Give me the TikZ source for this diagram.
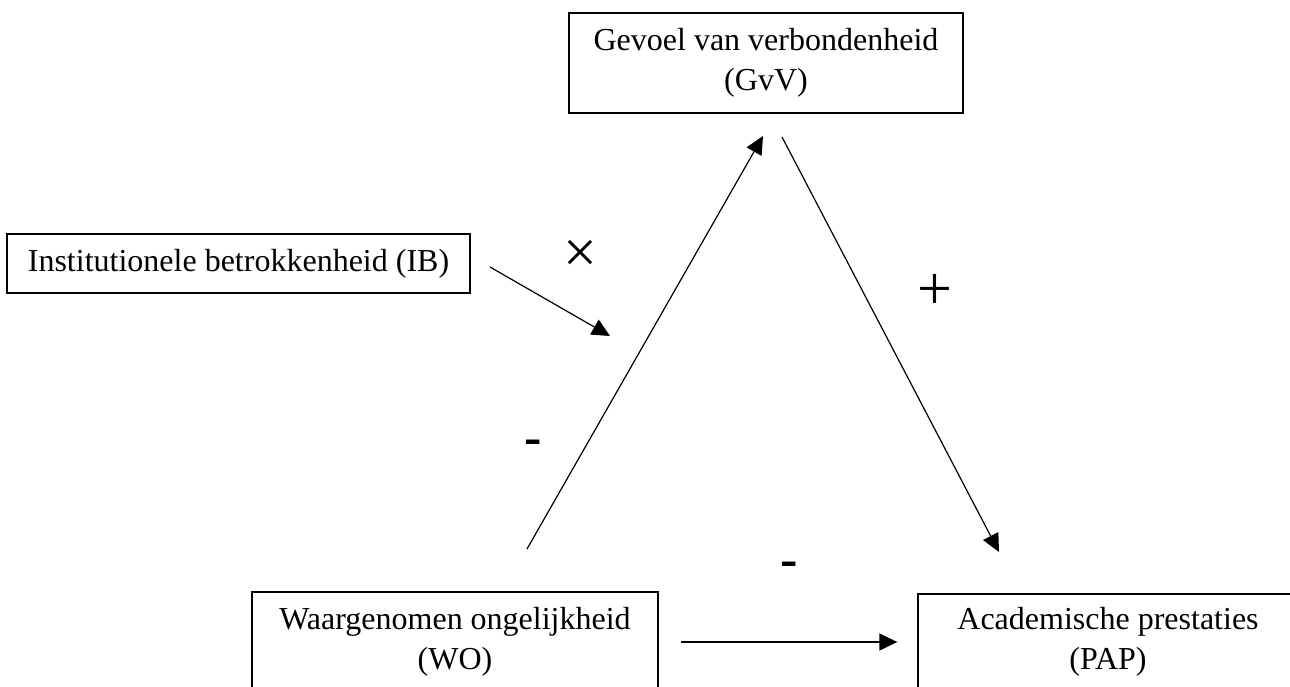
\documentclass[tikz,border=0pt]{standalone}
\usepackage{fontspec}
\setmainfont{Liberation Serif}
\usetikzlibrary{arrows.meta}

\begin{document}
\begin{tikzpicture}[x=0.5pt, y=-0.5pt,
    box/.style={draw, line width=0.65pt, align=center, inner sep=0pt, font=\fontsize{16}{20}\selectfont},
    arr/.style={-{Triangle[length=9pt, width=8.5pt]}, line width=0.6pt},
    sign/.style={inner sep=0pt}]
  \useasboundingbox (0,0) rectangle (1290,686);
  \clip (0,0) rectangle (1290,686);
  % boxes
  \node[box, minimum width=197pt, minimum height=50pt] (gvv) at (766,63) {Gevoel van verbondenheid\\(GvV)};
  \node[box, minimum width=231.5pt, minimum height=29.5pt] (ib) at (238.5,263.5) {Institutionele betrokkenheid (IB)};
  \node[box, minimum width=203pt, minimum height=50pt] (wo) at (455,642) {Waargenomen ongelijkheid\\(WO)};
  \node[box, minimum width=190pt, minimum height=48pt] (pap) at (1108,642) {Academische prestaties\\(PAP)};
  % arrow ends
  \coordinate (woUp) at (527,549);
  \coordinate (gvvIn) at (763,136);
  \coordinate (gvvOut) at (782,137);
  \coordinate (papIn) at (999,552);
  \coordinate (ibOut) at (490,267);
  \coordinate (ibIn) at (610,336);
  \draw[arr] (woUp) -- (gvvIn);
  \draw[arr] (gvvOut) -- (papIn);
  \draw[arr] (ibOut) -- (ibIn);
  \draw[arr, shorten <=11pt, shorten >=10pt] (wo.east) -- (pap.west);
  % signs
  \node[sign, font=\fontsize{30}{30}\selectfont] (times) at (580,256) {×};
  \node[sign, font=\fontsize{31}{31}\selectfont] (plus) at (935,292) {+};
  \node[sign, font=\bfseries\fontsize{26}{26}\selectfont] (minA) at (533,447) {-};
  \node[sign, font=\bfseries\fontsize{26}{26}\selectfont] (minB) at (789,569) {-};
\end{tikzpicture}
\end{document}
